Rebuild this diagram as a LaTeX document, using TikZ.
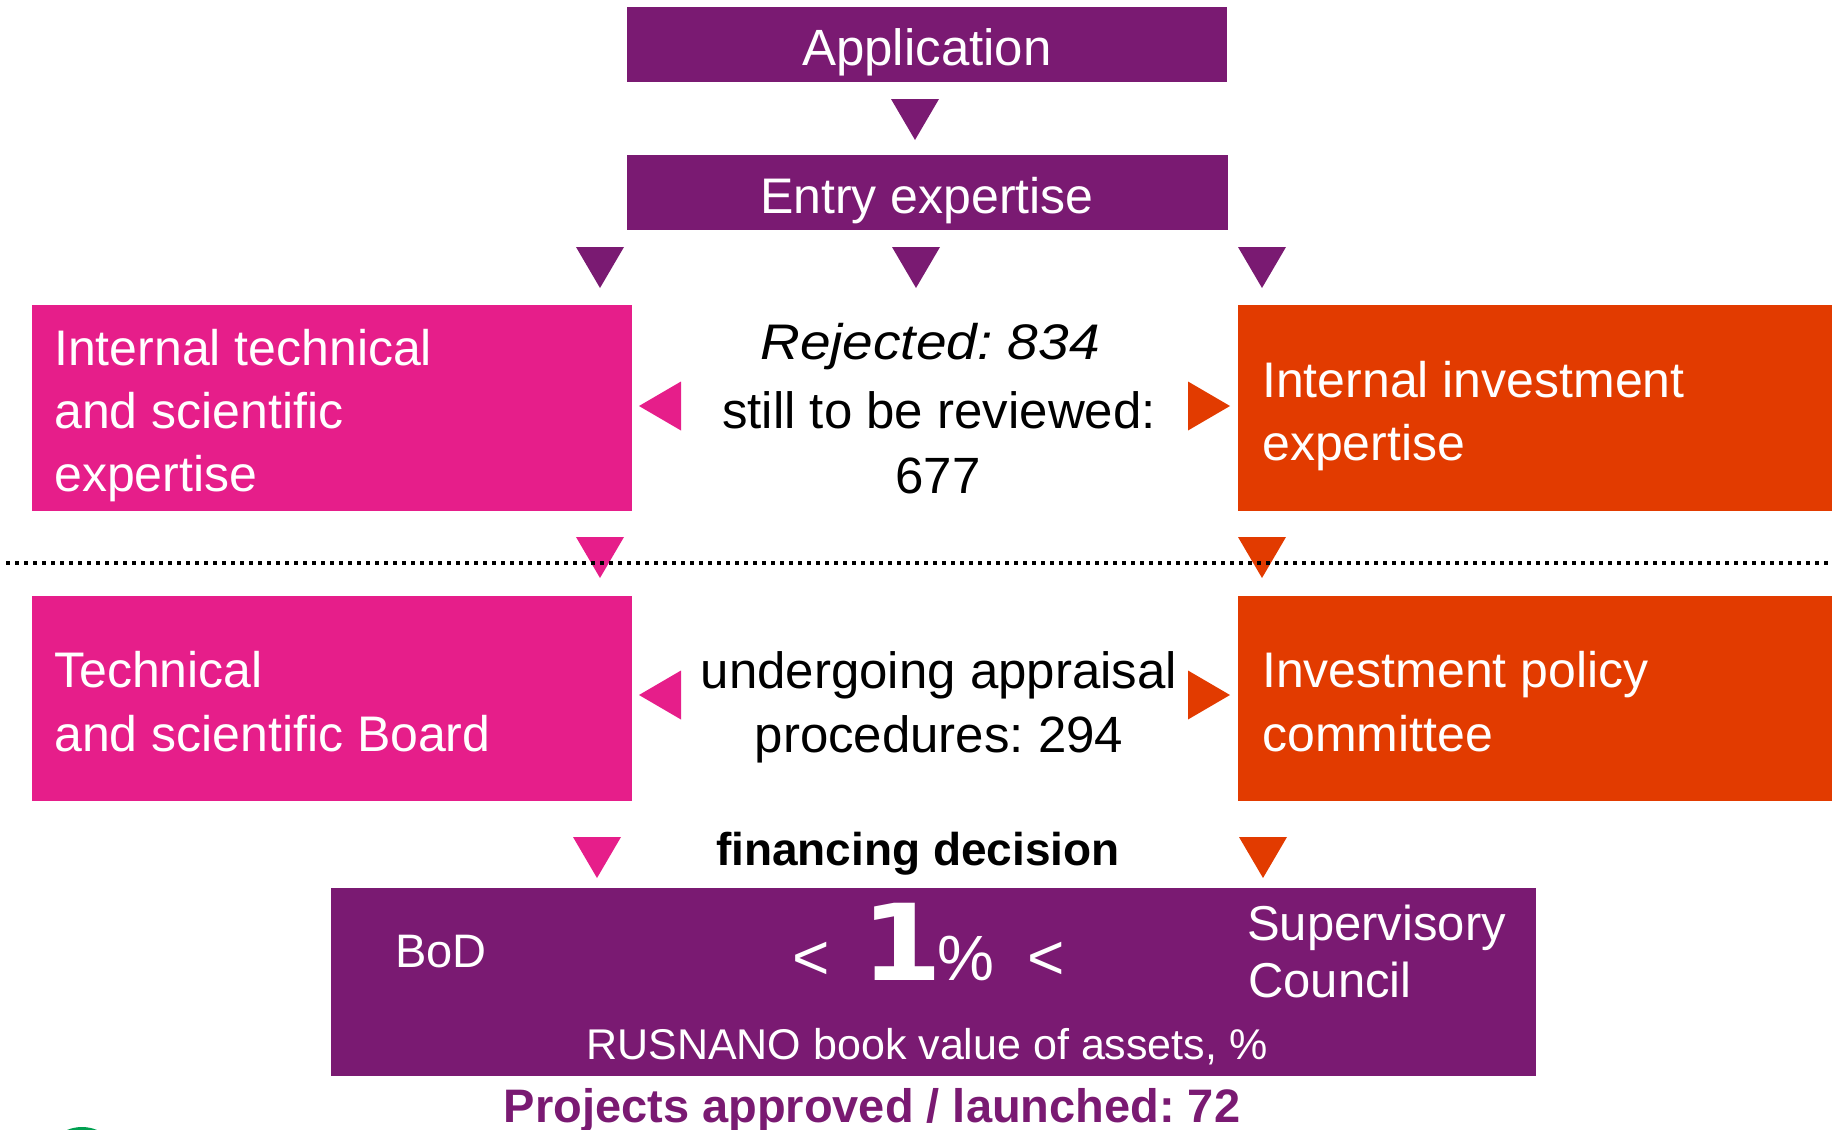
\documentclass[tikz,border=0pt]{standalone}
\usepackage{fontspec}
\setmainfont{Liberation Sans}
\newfontfamily\onefont{DejaVu Sans}
\definecolor{rpurple}{HTML}{7A1A72}
\definecolor{rpink}{HTML}{E61E8A}
\definecolor{rorange}{HTML}{E23B00}
\definecolor{rgreen}{HTML}{00A050}
\newcommand\fsz[1]{\fontsize{#1}{#1}\selectfont}
\frenchspacing

\tikzset{
  panel/.style={inner sep=0pt, outer sep=0pt, anchor=north west},
  wtext/.style={text=white, inner sep=0pt},
  btext/.style={text=black, inner sep=0pt},
  tridown/.pic={\fill (-24,0) -- (24,0) -- (0,41) -- cycle;},
  trileft/.pic={\fill (0,0) -- (42,-24.5) -- (42,24.5) -- cycle;},
  triright/.pic={\fill (0,-24.5) -- (42,0) -- (0,24.5) -- cycle;},
  sepline/.style={line width=3.2pt, dash pattern=on 4pt off 5pt, black}
}

\begin{document}
\begin{tikzpicture}[x=1pt,y=-1pt]
\useasboundingbox (0,0) rectangle (1832,1130);

% panels
\node[panel, fill=rpurple, minimum width=600, minimum height=75] (app) at (627,7) {};
\node[panel, fill=rpurple, minimum width=601, minimum height=75] (entry) at (627,155) {};
\node[panel, fill=rpink, minimum width=600, minimum height=206] (its) at (32,305) {};
\node[panel, fill=rorange, minimum width=594, minimum height=206] (iie) at (1238,305) {};
\node[panel, fill=rpink, minimum width=600, minimum height=205] (tsb) at (32,596) {};
\node[panel, fill=rorange, minimum width=594, minimum height=205] (ipc) at (1238,596) {};
\node[panel, fill=rpurple, minimum width=1205, minimum height=188] (fin) at (331,888) {};

% panel captions
\node[wtext, anchor=base] (appT) at (927,65) {\fsz{51}Application};
\node[wtext, anchor=base] (entryT) at (927,213) {\fsz{50}Entry expertise};

\node[wtext, anchor=base west] (its1) at (54,365) {\fsz{50}Internal technical};
\node[wtext, anchor=base west] (its2) at (54,428) {\fsz{50}and scientific};
\node[wtext, anchor=base west] (its3) at (54,491) {\fsz{50}expertise};

\node[wtext, anchor=base west] (iie1) at (1262,397) {\fsz{50}Internal investment};
\node[wtext, anchor=base west] (iie2) at (1262,460) {\fsz{50}expertise};

\node[wtext, anchor=base west] (tsb1) at (54,687) {\fsz{50}Technical};
\node[wtext, anchor=base west] (tsb2) at (54,751) {\fsz{50}and scientific Board};

\node[wtext, anchor=base west] (ipc1) at (1262,687) {\fsz{50}Investment policy};
\node[wtext, anchor=base west] (ipc2) at (1262,751) {\fsz{50}committee};

% middle column
\node[btext, anchor=base] (rej) at (930,359) {\fsz{50}\scalebox{1.1}[1]{\itshape Rejected: 834}};
\node[btext, anchor=base] (still) at (939,428) {\fsz{51}still to be reviewed:};
\node[btext, anchor=base] (still2) at (938,493) {\fsz{51}677};
\node[btext, anchor=base] (und1) at (939,688) {\fsz{51}undergoing appraisal};
\node[btext, anchor=base] (und2) at (939,752) {\fsz{51}procedures: 294};
\node[btext, anchor=base] (fdec) at (918,865) {\fsz{46}\bfseries financing decision};

% decision panel
\node[wtext, anchor=base west] (bod) at (395,967) {\fsz{47}BoD};
\node[wtext, anchor=base] (lt1) at (811,979) {\fsz{64}<};
\node[wtext, anchor=base] (one) at (902,980) {\fsz{106}\onefont\bfseries\scalebox{1.1}[1]{1}};
\node[wtext, anchor=base west] (pct) at (937,980) {\fsz{64}\%};
\node[wtext, anchor=base] (lt2) at (1046,979) {\fsz{64}<};
\node[wtext, anchor=base west] (sup1) at (1247,940) {\fsz{49}Supervisory};
\node[wtext, anchor=base west] (sup2) at (1248,997) {\fsz{49}Council};
\node[wtext, anchor=base] (book) at (927,1059) {\fsz{43}RUSNANO book value of assets, \%};
\node[inner sep=0pt, text=rpurple, anchor=base] (proj) at (872,1122) {\fsz{47}\bfseries Projects approved / launched: 72};

% flow markers
\pic[rpurple] at (915,99) {tridown};
\pic[rpurple] at (600,247) {tridown};
\pic[rpurple] at (916,247) {tridown};
\pic[rpurple] at (1262,247) {tridown};
\pic[rpink] at (639,406) {trileft};
\pic[rorange] at (1188,406) {triright};
\pic[rpink] at (600,537) {tridown};
\pic[rorange] at (1262,537) {tridown};
\pic[rpink] at (639,695) {trileft};
\pic[rorange] at (1188,695) {triright};
\pic[rpink] at (597,837) {tridown};
\pic[rorange] at (1263,837) {tridown};

% stage separator
\draw[sepline] (6,563) -- (1832,563);

% logo edge at the lower margin
\begin{scope}
  \clip (0,0) rectangle (1832,1130);
  \fill[rgreen] (82,1166) circle[radius=39];
\end{scope}
\end{tikzpicture}
\end{document}
